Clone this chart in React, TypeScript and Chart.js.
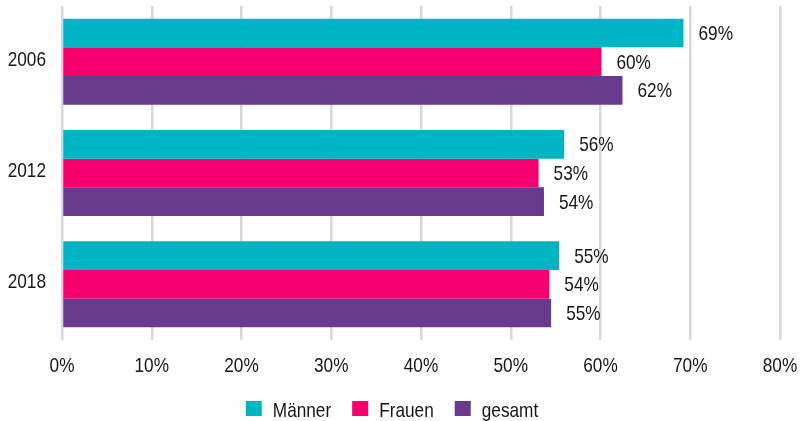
import React, { useEffect, useRef } from "react";
import { Chart, registerables } from "chart.js";

Chart.register(...registerables);

const years = ["2006", "2012", "2018"];
const maenner = [69.25, 55.95, 55.4];
const frauen = [60.1, 53.1, 54.3];
const gesamt = [62.45, 53.7, 54.5];
const seriesNames = ["Männer", "Frauen", "gesamt"];
const colors = ["#00b4c4", "#f6006f", "#673a8b"];
const xTickValues = [0, 10, 20, 30, 40, 50, 60, 70, 80];

const FONT = "'Liberation Sans', Arial, sans-serif";
const TEXT = "#161616";
const SX = 0.82;
const FS = 21;

function drawText(ctx: CanvasRenderingContext2D, text: string, x: number, y: number, align: "left" | "right" | "center", size: number) {
  ctx.save();
  ctx.font = `${size}px ${FONT}`;
  ctx.fillStyle = TEXT;
  ctx.textBaseline = "alphabetic";
  const w = ctx.measureText(text).width * SX;
  let left = x;
  if (align === "right") left = x - w;
  else if (align === "center") left = x - w / 2;
  ctx.translate(left, y);
  ctx.scale(SX, 1);
  ctx.textAlign = "left";
  ctx.fillText(text, 0, 0);
  ctx.restore();
  return w;
}

function textWidth(ctx: CanvasRenderingContext2D, text: string, size: number) {
  ctx.save();
  ctx.font = `${size}px ${FONT}`;
  const w = ctx.measureText(text).width * SX;
  ctx.restore();
  return w;
}

const textPlugin = {
  id: "condensedText",
  afterDraw(chart: any) {
    const ctx: CanvasRenderingContext2D = chart.ctx;
    const xs = chart.scales.x;
    const ys = chart.scales.y;
    years.forEach((label, i) => {
      drawText(ctx, label, 46, ys.getPixelForValue(i) + 4, "right", FS);
    });
    xTickValues.forEach((v) => {
      drawText(ctx, v + "%", xs.getPixelForValue(v), 372, "center", FS);
    });
    chart.data.datasets.forEach((ds: any, i: number) => {
      const meta = chart.getDatasetMeta(i);
      meta.data.forEach((el: any, j: number) => {
        drawText(ctx, Math.round(ds.data[j]) + "%", el.x + 15, el.y + 7, "left", FS);
      });
    });
    const box = 16;
    const gapText = 11;
    const gapItem = 21;
    const widths = seriesNames.map((n) => textWidth(ctx, n, FS));
    const total = widths.reduce((a, w) => a + box + gapText + w, 0) + gapItem * (seriesNames.length - 1);
    let x = 392 - total / 2;
    seriesNames.forEach((n, i) => {
      ctx.save();
      ctx.fillStyle = colors[i];
      ctx.fillRect(x, 401, box, box - 1);
      ctx.restore();
      x += box + gapText;
      drawText(ctx, n, x, 417, "left", FS);
      x += widths[i] + gapItem;
    });
  },
};

export default function App() {
  const ref = useRef<HTMLCanvasElement>(null);
  useEffect(() => {
    document.body.style.margin = "0";
    const chart = new Chart(ref.current!, {
      type: "bar",
      data: {
        labels: years,
        datasets: [maenner, frauen, gesamt].map((d, i) => ({
          label: seriesNames[i],
          data: d,
          backgroundColor: colors[i],
          borderWidth: 0,
          categoryPercentage: 0.7725,
          barPercentage: 1,
        })),
      },
      options: {
        indexAxis: "y",
        animation: false,
        responsive: false,
        maintainAspectRatio: false,
        layout: { padding: { top: 6, right: 20, left: 0, bottom: 0 } },
        scales: {
          x: {
            min: 0,
            max: 80,
            afterBuildTicks: (s: any) => {
              s.ticks = xTickValues.map((v) => ({ value: v }));
            },
            ticks: { display: false },
            grid: { color: "#d8d8d8", lineWidth: 2.5, drawTicks: false },
            border: { display: false },
            afterFit: (s: any) => {
              s.height = 81;
            },
          },
          y: {
            ticks: { display: false },
            grid: { display: false },
            border: { display: false },
            afterFit: (s: any) => {
              s.width = 62;
            },
          },
        },
        plugins: {
          legend: { display: false },
          tooltip: { enabled: false },
        },
      },
      plugins: [textPlugin],
    });
    return () => chart.destroy();
  }, []);
  return (
    <div style={{ position: "absolute", left: 0, top: 0, width: 800, height: 421 }}>
      <canvas ref={ref} width={800} height={421} style={{ display: "block" }} />
    </div>
  );
}
